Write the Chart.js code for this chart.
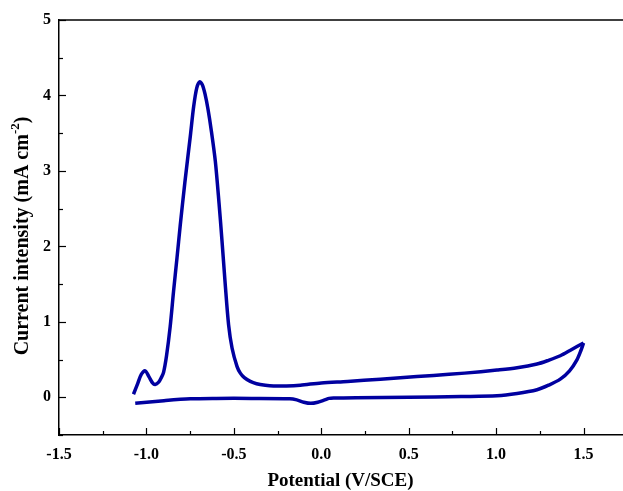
<!DOCTYPE html>
<html><head><meta charset="utf-8">
<script src="https://cdn.jsdelivr.net/npm/chart.js@4.4.1/dist/chart.umd.min.js"></script>
<style>html,body{margin:0;padding:0;background:#fff;overflow:hidden}#wrap{width:623px;height:491px}</style>
</head><body><div id="wrap"><canvas id="c" width="623" height="491"></canvas></div>
<script>
// Forward (anodic) scan: -1.07 V -> 1.5 V
const forwardPotential = [-1.074,-1.05,-1.03,-1.007,-0.985,-0.965,-0.95,-0.93,-0.915,-0.902,-0.885,-0.864,-0.845,-0.825,-0.807,-0.78,-0.749,-0.73,-0.712,-0.695,-0.68,-0.665,-0.648,-0.628,-0.606,-0.585,-0.568,-0.55,-0.53,-0.51,-0.482,-0.463,-0.44,-0.406,-0.37,-0.32,-0.273,-0.2,-0.12,0.0,0.15,0.338,0.452,0.642,0.82,1.005,1.12,1.234,1.3,1.367,1.43,1.5];
const forwardCurrent   = [0.04,0.18,0.30,0.35,0.27,0.19,0.17,0.20,0.26,0.33,0.55,0.94,1.40,1.85,2.27,2.85,3.46,3.85,4.10,4.18,4.14,4.02,3.82,3.52,3.13,2.58,2.08,1.52,0.96,0.65,0.41,0.32,0.26,0.21,0.18,0.16,0.15,0.15,0.16,0.19,0.21,0.24,0.26,0.29,0.32,0.36,0.39,0.44,0.49,0.55,0.63,0.72];
// Reverse (cathodic) scan: 1.5 V -> -1.07 V
const reversePotential = [1.5,1.485,1.463,1.42,1.367,1.3,1.234,1.12,1.005,0.8,0.5,0.2,0.07,0.045,0.02,-0.02,-0.06,-0.1,-0.14,-0.18,-0.4,-0.6,-0.749,-0.9,-1.064];
const reverseCurrent   = [0.72,0.62,0.50,0.35,0.24,0.16,0.10,0.05,0.02,0.01,0.0,-0.005,-0.01,-0.015,-0.035,-0.065,-0.08,-0.065,-0.035,-0.02,-0.015,-0.015,-0.02,-0.045,-0.08];

const xTickLabels = ['-1.5','-1.0','-0.5','0.0','0.5','1.0','1.5'];
const yTickLabels = ['0','1','2','3','4','5'];
const xTitle = 'Potential (V/SCE)';
const yTitleMain = 'Current intensity (mA cm';
const yTitleSup = '-2';
const yTitleEnd = ')';

const toPoints = (xs, ys) => xs.map((v, i) => ({x: v, y: ys[i]}));
const FONT = "'Liberation Serif','Times New Roman',serif";
const lineColor = '#0000a0';

const labelFor = (value, labels) => {
  const hit = labels.find(l => Math.abs(parseFloat(l) - value) < 1e-6);
  return hit === undefined ? '' : hit;
};

const decor = {
  id: 'decor',
  afterDraw(chart) {
    const {ctx, chartArea: a, scales: {x, y}} = chart;
    ctx.save();
    ctx.strokeStyle = '#000';
    ctx.lineWidth = 1.5;
    ctx.beginPath(); ctx.moveTo(a.left, a.top); ctx.lineTo(a.right + 1, a.top); ctx.stroke();
    ctx.lineWidth = 1.2;
    x.ticks.forEach(t => {
      const px = Math.round(x.getPixelForValue(t.value)) + 0.5;
      const len = labelFor(t.value, xTickLabels) ? 7 : 4;
      ctx.beginPath(); ctx.moveTo(px, a.bottom); ctx.lineTo(px, a.bottom - len); ctx.stroke();
    });
    y.ticks.forEach(t => {
      const py = Math.round(y.getPixelForValue(t.value)) + 0.5;
      const len = labelFor(t.value, yTickLabels) ? 7 : 4;
      ctx.beginPath(); ctx.moveTo(a.left, py); ctx.lineTo(a.left + len, py); ctx.stroke();
    });
    // x title
    ctx.fillStyle = '#000';
    ctx.font = 'bold 19px ' + FONT;
    ctx.textAlign = 'center';
    ctx.textBaseline = 'alphabetic';
    ctx.fillText(xTitle, (a.left + a.right) / 2, 486);
    // y title with superscript
    ctx.translate(28, 236);
    ctx.rotate(-Math.PI / 2);
    ctx.textAlign = 'left';
    ctx.font = 'bold 20px ' + FONT;
    const w1 = ctx.measureText(yTitleMain).width;
    const w3 = ctx.measureText(yTitleEnd).width;
    ctx.font = 'bold 13px ' + FONT;
    const w2 = ctx.measureText(yTitleSup).width;
    let sx = -(w1 + w2 + w3) / 2;
    ctx.font = 'bold 20px ' + FONT;
    ctx.fillText(yTitleMain, sx, 0); sx += w1;
    ctx.font = 'bold 13px ' + FONT;
    ctx.fillText(yTitleSup, sx, -9); sx += w2;
    ctx.font = 'bold 20px ' + FONT;
    ctx.fillText(yTitleEnd, sx, 0);
    ctx.restore();
  }
};

new Chart(document.getElementById('c'), {
  type: 'line',
  data: {
    datasets: [
      {data: toPoints(forwardPotential, forwardCurrent), borderColor: lineColor, borderWidth: 3.5, pointRadius: 0, tension: 0.3, fill: false},
      {data: toPoints(reversePotential, reverseCurrent), borderColor: lineColor, borderWidth: 3.5, pointRadius: 0, tension: 0.3, fill: false}
    ]
  },
  options: {
    responsive: false,
    animation: false,
    devicePixelRatio: 1,
    layout: {padding: {top: 20, right: 1, left: 0, bottom: 0}},
    plugins: {legend: {display: false}, tooltip: {enabled: false}},
    scales: {
      x: {
        type: 'linear', min: -1.5, max: 1.72,
        grid: {display: false, drawTicks: false},
        border: {display: true, color: '#000', width: 1.5},
        ticks: {stepSize: 0.25, includeBounds: false, autoSkip: false, maxRotation: 0, padding: 10,
          color: '#000', font: {family: FONT, size: 16, weight: 'bold'},
          callback: v => labelFor(v, xTickLabels)},
        afterFit: s => { s.height = 56; }
      },
      y: {
        type: 'linear', min: -0.5, max: 5,
        grid: {display: false, drawTicks: false},
        border: {display: true, color: '#000', width: 1.5},
        ticks: {stepSize: 0.5, autoSkip: false, padding: 8,
          color: '#000', font: {family: FONT, size: 16, weight: 'bold'},
          callback: v => labelFor(v, yTickLabels)},
        afterFit: s => { s.width = 59; }
      }
    }
  },
  plugins: [decor]
});
</script></body></html>
